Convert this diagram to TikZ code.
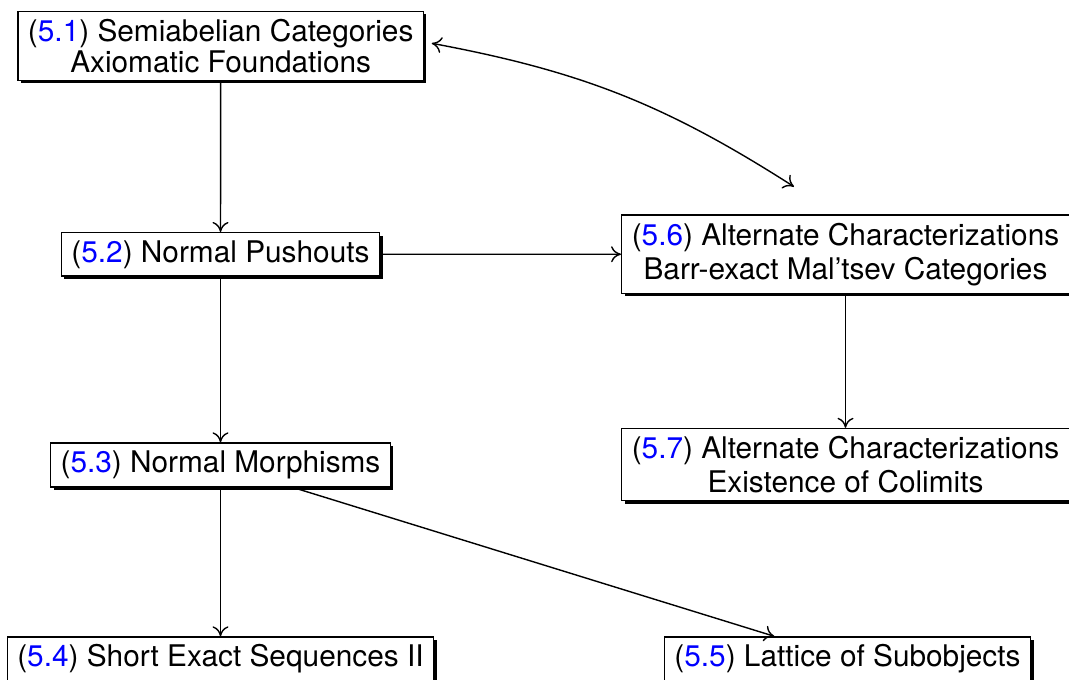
\documentclass[tikz,border=0pt]{standalone}
\usepackage{fontspec}
\setmainfont{TeX Gyre Heros}
\usetikzlibrary{arrows.meta,shadows}
\newcommand{\secnum}[1]{(\textcolor{blue}{#1})}
\begin{document}
\begin{tikzpicture}[x=1pt,y=-1pt,
  box/.style={draw, line width=1.4pt, fill=white, inner xsep=10pt, inner ysep=7.6pt,
    align=center, font=\fontsize{29.8}{34}\selectfont,
    drop shadow={shadow xshift=3pt, shadow yshift=-3pt, fill=black, opacity=1}},
  tip/.tip={To[length=10pt,width=16pt]},
  arr/.style={line width=1.4pt, -tip},
  dblarr/.style={line width=1.4pt, tip-tip}]
\useasboundingbox (0,0) rectangle (1069,680);
\node[box, minimum width=404.7pt, minimum height=68.3pt, font=\fontsize{29.8}{31}\selectfont] (n1) at (220.7,45.85)
  {\secnum{5.1} Semiabelian Categories\\Axiomatic Foundations};
\node[box, minimum width=315.3pt, minimum height=43.3pt] (n2) at (220.5,254.3)
  {\secnum{5.2} Normal Pushouts};
\node[box, minimum width=337.3pt, minimum height=44pt] (n3) at (220.5,465)
  {\secnum{5.3} Normal Morphisms};
\node[box, minimum width=425pt, minimum height=44pt] (n4) at (220.5,659)
  {\secnum{5.4} Short Exact Sequences II};
\node[box, minimum width=365pt, minimum height=44pt] (n5) at (847.5,659)
  {\secnum{5.5} Lattice of Subobjects};
\node[box, minimum width=444pt, minimum height=78.3pt] (n6) at (845.5,254.2)
  {\secnum{5.6} Alternate Characterizations\\Barr-exact Mal’tsev Categories};
\node[box, minimum width=442pt, minimum height=71pt] (n7) at (845.5,464.5)
  {\secnum{5.7} Alternate Characterizations\\Existence of Colimits};
\coordinate (c1) at (431.7,43.3);
\coordinate (c2) at (794,186.7);
\draw[arr] (n1) -- (n2);
\draw[arr] (n2) -- (n3);
\draw[arr] (n3) -- (n4);
\draw[arr] (n2) -- (n6);
\draw[arr] (n6) -- (n7);
\draw[arr] (n3) -- (n5);
\draw[dblarr] (c1) to[bend left=11] (c2);
\end{tikzpicture}
\end{document}
